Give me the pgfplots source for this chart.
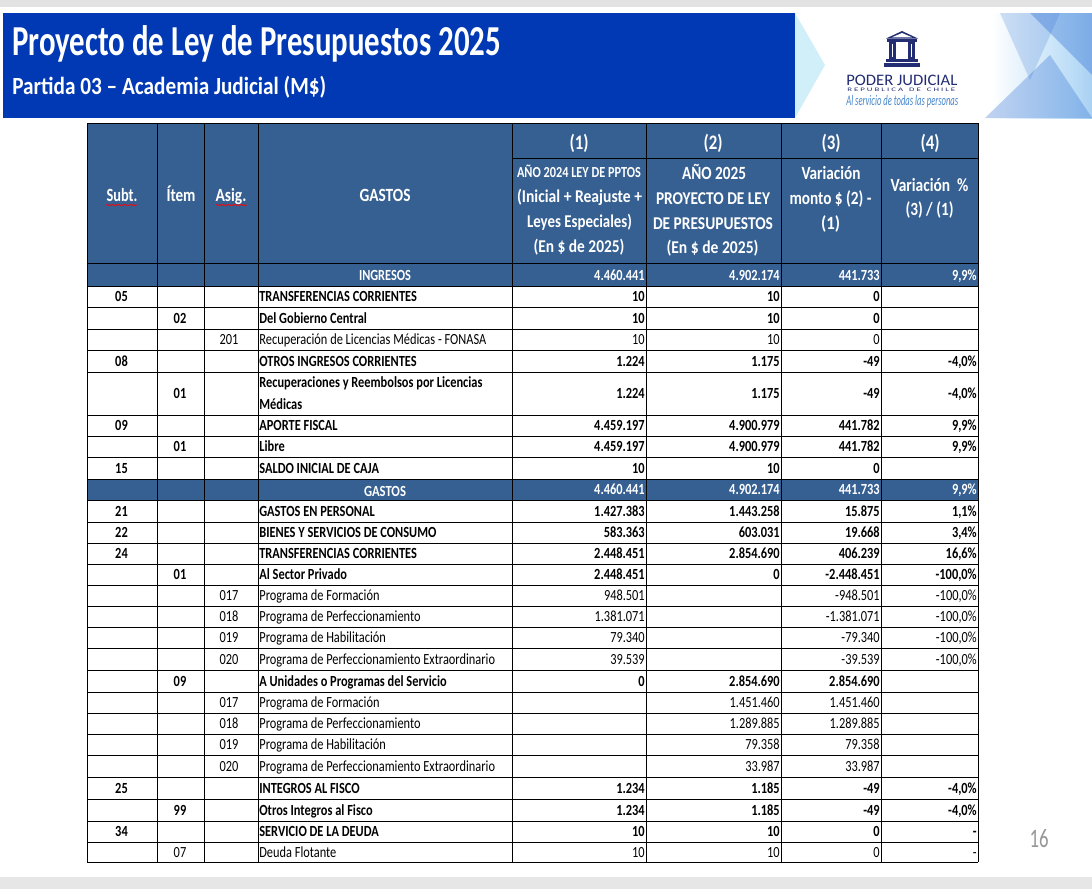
\documentclass[border=0pt]{standalone}
\usepackage{pgfplots}
\pgfplotsset{compat=1.18}
\usepackage{pgfplotstable}
\usepackage{graphicx}
\usepackage{fontspec}
\setmainfont{Carlito}
\usetikzlibrary{decorations.pathmorphing}
\definecolor{band}{RGB}{54,96,146}
\definecolor{banner}{RGB}{0,57,179}
\definecolor{navy}{RGB}{35,45,115}
\definecolor{slogan}{RGB}{70,135,205}
\definecolor{topgray}{RGB}{226,226,226}
\definecolor{botgray}{RGB}{230,230,230}
\definecolor{pgnum}{RGB}{150,150,150}
\definecolor{bcyan}{RGB}{165,225,245}
\definecolor{bblue}{RGB}{40,105,210}
\definecolor{blight}{RGB}{185,220,246}
\pgfdeclarehorizontalshading{bannershade}{100bp}{color(0bp)=(bcyan); color(14bp)=(white); color(58bp)=(white); color(72bp)=(blight); color(100bp)=(bblue)}

\newlength\px \setlength\px{0.75pt}
\newcommand\fitw[2]{\resizebox{#1\px}{\height}{#2}}
\newcommand\hd[5]{\node[text=white, inner sep=0, anchor=base] at (#1,#2) {\fitw{#3}{\fontsize{#4}{#4}\selectfont\bfseries #5}};}

\pgfplotsset{
  tcell/.style 2 args={draw=none, mark=none, point meta=explicit symbolic,
    nodes near coords={\pgfplotspointmeta},
    every node near coord/.append style={anchor=#1, inner sep=0.6pt, xscale=0.80, font=\fontsize{11.6}{13}\selectfont#2}},
}

% values: bold rows
\pgfplotstableread[col sep=semicolon]{
y;c1;c2;c3;c4
298.5;10;10;0;
320;10;10;0;
363;1.224;1.175;-49;-4,0\%
395.5;1.224;1.175;-49;-4,0\%
427.5;4.459.197;4.900.979;441.782;9,9\%
448.5;4.459.197;4.900.979;441.782;9,9\%
470;10;10;0;
513;1.427.383;1.443.258;15.875;1,1\%
534.5;583.363;603.031;19.668;3,4\%
555.5;2.448.451;2.854.690;406.239;16,6\%
576.5;2.448.451;0;-2.448.451;-100,0\%
683;0;2.854.690;2.854.690;
790;1.234;1.185;-49;-4,0\%
812;1.234;1.185;-49;-4,0\%
833.5;10;10;0;-
}\valbold
% values: regular rows
\pgfplotstableread[col sep=semicolon]{
y;c1;c2;c3;c4
341.5;10;10;0;
597.5;948.501;;-948.501;-100,0\%
618.5;1.381.071;;-1.381.071;-100,0\%
639.5;79.340;;-79.340;-100,0\%
661;39.539;;-39.539;-100,0\%
704.5;;1.451.460;1.451.460;
725.5;;1.289.885;1.289.885;
746.5;;79.358;79.358;
768;;33.987;33.987;
854;10;10;0;-
}\valreg
% values: total rows (INGRESOS, GASTOS)
\pgfplotstableread[col sep=semicolon]{
y;c1;c2;c3;c4
277;4.460.441;4.902.174;441.733;9,9\%
491.5;4.460.441;4.902.174;441.733;9,9\%
}\valtot

% labels
\pgfplotstableread[col sep=semicolon]{
y;s;i;a;name
298.5;05;;;TRANSFERENCIAS CORRIENTES
320;;02;;Del Gobierno Central
363;08;;;OTROS INGRESOS CORRIENTES
395.5;;01;;
384.5;;;;Recuperaciones y Reembolsos por Licencias
406.5;;;;Médicas
427.5;09;;;APORTE FISCAL
448.5;;01;;Libre
470;15;;;SALDO INICIAL DE CAJA
513;21;;;GASTOS EN PERSONAL
534.5;22;;;BIENES Y SERVICIOS DE CONSUMO
555.5;24;;;TRANSFERENCIAS CORRIENTES
576.5;;01;;Al Sector Privado
683;;09;;A Unidades o Programas del Servicio
790;25;;;INTEGROS AL FISCO
812;;99;;Otros Integros al Fisco
833.5;34;;;SERVICIO DE LA DEUDA
}\labbold
\pgfplotstableread[col sep=semicolon]{
y;s;i;a;name
341.5;;;201;Recuperación de Licencias Médicas - FONASA
597.5;;;017;Programa de Formación
618.5;;;018;Programa de Perfeccionamiento
639.5;;;019;Programa de Habilitación
661;;;020;Programa de Perfeccionamiento Extraordinario
704.5;;;017;Programa de Formación
725.5;;;018;Programa de Perfeccionamiento
746.5;;;019;Programa de Habilitación
768;;;020;Programa de Perfeccionamiento Extraordinario
854;;07;;Deuda Flotante
}\labreg

\begin{document}
\begin{tikzpicture}
\begin{axis}[
  width=819pt, height=666.75pt, scale only axis,
  xmin=0, xmax=1092, ymin=0, ymax=889, y dir=reverse,
  hide axis, clip=false]
% background
\fill[white] (0,0) rectangle (1092,889);
\fill[topgray] (0,0) rectangle (1092,7);
\fill[botgray] (0,877) rectangle (1092,889);
% banner
\fill[banner] (3,13) rectangle (795,118);
\shade[shading=bannershade] (795,13) rectangle (1092,118);
\fill[bblue, opacity=0.35] (1030,13) -- (1092,13) -- (1092,75) -- cycle;
\fill[bblue, opacity=0.30] (985,118) -- (1050,55) -- (1092,118) -- cycle;
\fill[bblue, opacity=0.20] (1000,13) -- (1060,13) -- (1030,80) -- cycle;
\fill[bcyan, opacity=0.5] (795,13) -- (825,65) -- (795,118) -- cycle;
\node[anchor=base west, inner sep=0, text=white] at (12,55) {\fitw{489}{\fontsize{32}{36}\selectfont\bfseries Proyecto de Ley de Presupuestos 2025}};
\node[anchor=base west, inner sep=0, text=white] at (12,94) {\fitw{314}{\fontsize{18.5}{20}\selectfont\bfseries Partida 03 – Academia Judicial (M\$)}};
% logo
\fill[navy] (886,38.5) -- (902,31) -- (918,38.5) -- cycle;
\fill[white] (892,37.3) -- (902,33) -- (912,37.3) -- cycle;
\fill[navy] (887,39) rectangle (917,42);
\fill[navy] (889,42) rectangle (896,58.5);
\fill[navy] (908,42) rectangle (915,58.5);
\fill[white] (892,44) rectangle (893,57);
\fill[white] (911,44) rectangle (912,57);
\fill[navy] (886,59) rectangle (918,62);
\fill[navy] (884,63) rectangle (920,66.5);
\node[anchor=base west, inner sep=0, text=navy] at (846,85) {\fitw{111}{\fontsize{12}{12}\selectfont PODER JUDICIAL}};
\node[anchor=base west, inner sep=0, text=navy] at (847,91.5) {\fitw{108}{\fontsize{4}{4}\selectfont R E P U B L I C A \ \ D E \ \ C H I L E}};
\node[anchor=base west, inner sep=0, text=slogan] at (846,105) {\fitw{112}{\fontsize{11}{11}\selectfont\itshape Al servicio de todas las personas}};
% table fills
\fill[band] (87,123) rectangle (978,263);
\fill[band] (87,263) rectangle (978,286);
\fill[band] (87,479) rectangle (978,500);
% table lines
\pgfplotsinvokeforeach{123,263,286,307,329,350,372,415,436,457,479,500,522,543,564,585,606,627,648,670,692,713,734,755,777,799,821,842,862}{\draw[black, line width=0.6pt] (87,#1) -- (978,#1);}
\draw[black, line width=0.6pt] (512,158) -- (978,158);
\pgfplotsinvokeforeach{87,157,204,258,512,646,781,881,978}{\draw[black, line width=0.6pt] (#1,123) -- (#1,862);}
% header text
\hd{122}{201}{31}{14}{Subt.}
\hd{181}{201}{29}{14}{Ítem}
\hd{231}{201}{31}{14}{Asig.}
\hd{385}{201}{51}{14}{GASTOS}
\draw[red, line width=0.5pt, decorate, decoration={snake, amplitude=0.45pt, segment length=2.2pt}] (106,205) -- (137,205);
\draw[red, line width=0.5pt, decorate, decoration={snake, amplitude=0.45pt, segment length=2.2pt}] (216,205) -- (247,205);
\hd{579}{149}{19}{15.5}{(1)}
\hd{713}{149}{19}{15.5}{(2)}
\hd{831}{149}{19}{15.5}{(3)}
\hd{930}{149}{19}{15.5}{(4)}
\hd{579}{177.5}{124}{11.5}{AÑO 2024 LEY DE PPTOS}
\hd{579.5}{202}{125}{13.5}{(Inicial + Reajuste +}
\hd{579.5}{227}{105}{13.5}{Leyes Especiales)}
\hd{579}{252}{91}{13.5}{(En \$ de 2025)}
\hd{714}{179}{64}{14}{AÑO 2025}
\hd{713}{204}{114}{13.5}{PROYECTO DE LEY}
\hd{713}{229}{120}{13.5}{DE PRESUPUESTOS}
\hd{712.5}{253}{92}{13.5}{(En \$ de 2025)}
\hd{831}{179}{59}{14}{Variación}
\hd{830.5}{204}{82}{14}{monto \$ (2) -}
\hd{830.5}{229}{19}{14}{(1)}
\hd{929.5}{191}{78}{14}{Variación\ \ \%}
\hd{929.5}{215}{48}{14}{(3) / (1)}
\hd{385}{280.5}{52}{11.6}{INGRESOS}
\hd{385}{496}{42}{11.6}{GASTOS}
% values
\addplot[tcell={mid east}{\bfseries}] table[x expr=645.6, y=y, meta=c1] {\valbold};
\addplot[tcell={mid east}{\bfseries}] table[x expr=780.6, y=y, meta=c2] {\valbold};
\addplot[tcell={mid east}{\bfseries}] table[x expr=880.6, y=y, meta=c3] {\valbold};
\addplot[tcell={mid east}{\bfseries}] table[x expr=977.6, y=y, meta=c4] {\valbold};
\addplot[tcell={mid east}{}] table[x expr=645.6, y=y, meta=c1] {\valreg};
\addplot[tcell={mid east}{}] table[x expr=780.6, y=y, meta=c2] {\valreg};
\addplot[tcell={mid east}{}] table[x expr=880.6, y=y, meta=c3] {\valreg};
\addplot[tcell={mid east}{}] table[x expr=977.6, y=y, meta=c4] {\valreg};
\addplot[tcell={mid east}{\bfseries\color{white}}] table[x expr=645.6, y=y, meta=c1] {\valtot};
\addplot[tcell={mid east}{\bfseries\color{white}}] table[x expr=780.6, y=y, meta=c2] {\valtot};
\addplot[tcell={mid east}{\bfseries\color{white}}] table[x expr=880.6, y=y, meta=c3] {\valtot};
\addplot[tcell={mid east}{\bfseries\color{white}}] table[x expr=977.6, y=y, meta=c4] {\valtot};
% labels
\addplot[tcell={mid}{\bfseries}] table[x expr=121.5, y=y, meta=s] {\labbold};
\addplot[tcell={mid}{\bfseries}] table[x expr=180, y=y, meta=i] {\labbold};
\addplot[tcell={mid west}{\bfseries}] table[x expr=258.5, y=y, meta=name] {\labbold};
\addplot[tcell={mid}{}] table[x expr=180, y=y, meta=i] {\labreg};
\addplot[tcell={mid}{}] table[x expr=229, y=y, meta=a] {\labreg};
\addplot[tcell={mid west}{}] table[x expr=258.5, y=y, meta=name] {\labreg};
% page number
\node[text=pgnum, inner sep=0, anchor=base] at (1039,847) {\fitw{19}{\fontsize{20}{20}\selectfont 16}};
\end{axis}
\pgfresetboundingbox
\path (0,0) rectangle (819pt,666.75pt);
\end{tikzpicture}
\end{document}
